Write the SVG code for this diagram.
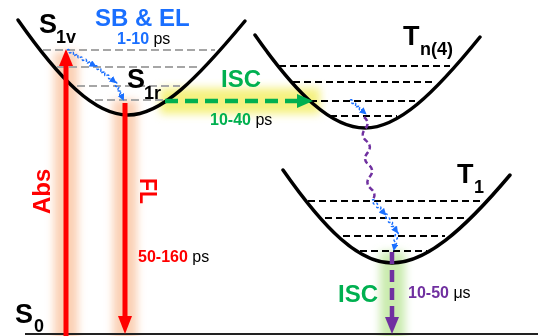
<svg xmlns="http://www.w3.org/2000/svg" width="538" height="336" viewBox="0 0 538 336">
<style>
.curve{fill:none;stroke:#000;stroke-width:3.5;stroke-linecap:round}
.lvg{stroke:#a6a6a6;stroke-width:2;stroke-dasharray:8 4}
.lvk{stroke:#000;stroke-width:2;stroke-dasharray:7 4}
.t{font-family:"Liberation Sans",Arial,sans-serif;font-weight:bold}
.big{font-size:27px;fill:#000}
.sub{font-size:18px;fill:#000}
.ps{font-family:"Liberation Sans",Arial,sans-serif;font-size:16px;fill:#000;font-weight:normal}
.wb{fill:none;stroke:#1a6fff;stroke-width:1.5;stroke-dasharray:3 1.2}
.wp{fill:none;stroke:#7030a0;stroke-width:2.5;stroke-dasharray:5 3}
</style>
<defs>
<filter id="blur" x="-50%" y="-50%" width="200%" height="200%"><feGaussianBlur stdDeviation="4"/></filter>
<marker id="ab" markerUnits="userSpaceOnUse" markerWidth="7" markerHeight="7" refX="5" refY="3.5" orient="auto"><path d="M0,0 L7,3.5 L0,7 z" fill="#1a6fff"/></marker>
</defs>
<g id="glows" filter="url(#blur)">
<rect x="54" y="52" width="24" height="290" fill="#f9b182" opacity="0.6"/>
<rect x="113" y="100" width="24" height="240" fill="#f9b182" opacity="0.6"/>
<rect x="160" y="88" width="160" height="26" fill="#f2ee60" opacity="0.8"/>
<rect x="380" y="252" width="25" height="90" fill="#b4e28c" opacity="0.7"/>
</g>
<g id="S0">
<line x1="25" y1="334" x2="538" y2="334" stroke="#222" stroke-width="2"/>
<text class="t big" x="15" y="323">S</text><text class="t sub" x="34" y="332">0</text>
</g>
<g id="S1">
<path class="curve" d="M18,20 C60,80 95,115 128,115 C161,115 196,80 245,21"/>
<line class="lvg" x1="43" y1="50" x2="215" y2="50"/>
<line class="lvg" x1="57" y1="67" x2="200" y2="67"/>
<line class="lvg" x1="77" y1="86" x2="180" y2="86"/>
<line class="lvg" x1="95" y1="100" x2="166" y2="100"/>
<text class="t big" x="39" y="33">S</text><text class="t sub" x="56" y="43">1v</text>
<text class="t big" x="127" y="88">S</text><text class="t sub" x="144" y="99">1r</text>
<text class="t" x="95" y="26" font-size="24" fill="#1a6fff">SB &amp; EL</text>
<text class="t" x="117" y="44" font-size="16" fill="#1a6fff">1-10 <tspan class="ps">ps</tspan></text>
</g>
<g id="Tn">
<path class="curve" d="M255,35 C297,95 332,128 365,128 C398,128 433,95 480,37"/>
<line class="lvk" x1="279" y1="66" x2="450" y2="66"/>
<line class="lvk" x1="293" y1="82" x2="435" y2="82"/>
<line class="lvk" x1="310" y1="101" x2="415" y2="101"/>
<line class="lvk" x1="330" y1="116" x2="397" y2="116"/>
<text class="t big" x="403" y="45">T</text><text class="t sub" x="420" y="55">n(4)</text>
</g>
<g id="T1">
<path class="curve" d="M283,170 C325,230 359,263 392,263 C425,263 462,232 510,175"/>
<line class="lvk" x1="308" y1="201" x2="482" y2="201"/>
<line class="lvk" x1="325" y1="218" x2="465" y2="218"/>
<line class="lvk" x1="343" y1="236" x2="445" y2="236"/>
<line class="lvk" x1="360" y1="251" x2="427" y2="251"/>
<text class="t big" x="457" y="183">T</text><text class="t sub" x="474" y="193">1</text>
</g>
<g id="connectors">
<line x1="66" y1="336" x2="66" y2="63" stroke="#ff0000" stroke-width="5"/>
<polygon points="66,49 59,66 73,66" fill="#ff0000"/>
<line x1="125" y1="103" x2="125" y2="318" stroke="#ff0000" stroke-width="5"/>
<polygon points="125,334 118,316 132,316" fill="#ff0000"/>
<line x1="165" y1="101" x2="298" y2="101" stroke="#00b050" stroke-width="4.5" stroke-dasharray="13 7"/>
<polygon points="313,101 297,94 297,108" fill="#00b050"/>
<line x1="392" y1="252" x2="392" y2="318" stroke="#7030a0" stroke-width="4.5" stroke-dasharray="12 6"/>
<polygon points="392,334 385,317 399,317" fill="#7030a0"/>
<path class="wb" marker-end="url(#ab)" transform="translate(67,50) rotate(29.7)" d="M0,0 q1.25,-2.5 2.5,0 t2.5,0 t2.5,0 t2.5,0 t2.5,0 t2.5,0 t2.5,0 t2.5,0 t2.5,0 t2.5,0 t2.5,0 t2.5,0 l2,0"/>
<path class="wb" marker-end="url(#ab)" transform="translate(95,66) rotate(38.7)" d="M0,0 q1.25,-2.5 2.5,0 t2.5,0 t2.5,0 t2.5,0 t2.5,0 t2.5,0 t2.5,0 t2.5,0 t2.5,0 l3,0"/>
<path class="wb" marker-end="url(#ab)" transform="translate(115,82) rotate(64.8)" d="M0,0 q1.25,-2.5 2.5,0 t2.5,0 t2.5,0 t2.5,0 t2.5,0 t2.5,0 l3.8,0"/>
<path class="wb" marker-end="url(#ab)" transform="translate(350,100) rotate(41)" d="M0,0 q1.25,-2.5 2.5,0 t2.5,0 t2.5,0 t2.5,0 t2.5,0 t2.5,0 t2.5,0 l2.5,0"/>
<path class="wp" transform="translate(364,117) rotate(84.5)" d="M0,0 q6,-6 12,0 t12,0 t12,0 t12,0 t12,0 t12,0 t12,0"/>
<path class="wb" marker-end="url(#ab)" transform="translate(372,200) rotate(47.1)" d="M0,0 q1.25,-3 2.5,0 t2.5,0 t2.5,0 t2.5,0 t2.5,0 t2.5,0 l4,0"/>
<path class="wb" marker-end="url(#ab)" transform="translate(385,214) rotate(56.3)" d="M0,0 q1.25,-3 2.5,0 t2.5,0 t2.5,0 t2.5,0 t2.5,0 t2.5,0 t2.5,0 l4,0"/>
<path class="wb" marker-end="url(#ab)" transform="translate(397,232) rotate(100)" d="M0,0 q1.25,-3 2.5,0 t2.5,0 t2.5,0 t2.5,0 t2.5,0 l4.8,0"/>
</g>
<g id="labels">
<text class="t" transform="translate(50,214) rotate(-90)" font-size="24" fill="#ff0000">Abs</text>
<text class="t" transform="translate(140,178) rotate(90)" font-size="24" fill="#ff0000" textLength="26" lengthAdjust="spacingAndGlyphs">FL</text>
<text class="t" x="138" y="262" font-size="16" fill="#ff0000">50-160 <tspan class="ps">ps</tspan></text>
<text class="t" x="221" y="87" font-size="24" fill="#00b050">ISC</text>
<text class="t" x="210" y="125" font-size="16" fill="#00b050">10-40 <tspan class="ps">ps</tspan></text>
<text class="t" x="338" y="302" font-size="24" fill="#00b050">ISC</text>
<text class="t" x="408" y="298" font-size="16" fill="#7030a0">10-50 <tspan class="ps">μs</tspan></text>
</g>
</svg>
